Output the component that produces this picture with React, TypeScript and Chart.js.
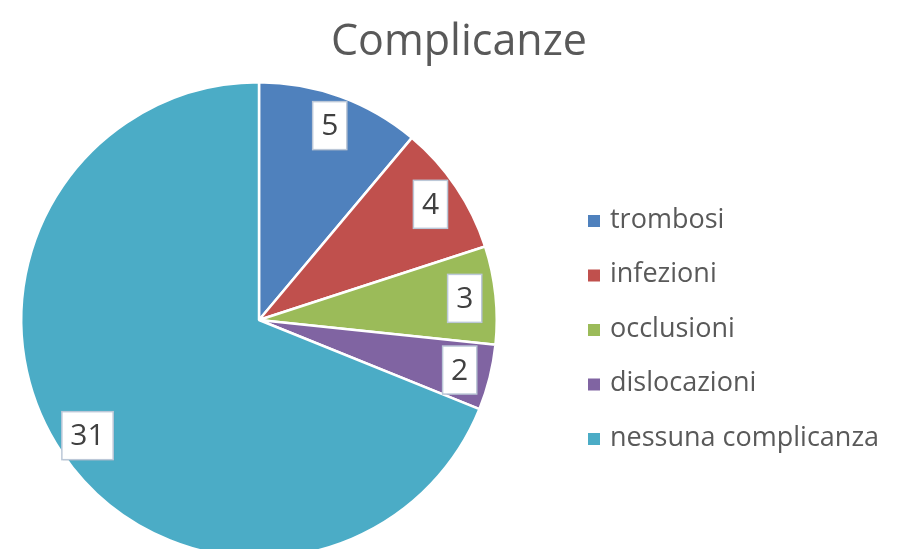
import React, { useEffect, useRef } from "react";
import { Chart, registerables } from "chart.js";

Chart.register(...registerables);

const TITLE = "Complicanze";
const categories = ["trombosi", "infezioni", "occlusioni", "dislocazioni", "nessuna complicanza"];
const values = [5, 4, 3, 2, 31];
const colors = ["#4F81BD", "#C0504D", "#9BBB59", "#8064A2", "#4BACC6"];

const FONT = "'Open Sans', 'Noto Sans', sans-serif";

const overlayPlugin = {
  id: "overlay",
  afterDraw(chart: any) {
    const ctx = chart.ctx as CanvasRenderingContext2D;
    ctx.save();
    // Title
    ctx.fillStyle = "#595959";
    ctx.font = `43px ${FONT}`;
    ctx.textAlign = "center";
    ctx.textBaseline = "alphabetic";
    ctx.fillText(TITLE, 459, 55);

    // Data labels
    const meta = chart.getDatasetMeta(0);
    ctx.font = `30px ${FONT}`;
    meta.data.forEach((arc: any, i: number) => {
      const mid = (arc.startAngle + arc.endAngle) / 2;
      const d = arc.outerRadius * 0.87;
      const cx = arc.x + Math.cos(mid) * d;
      const cy = arc.y + Math.sin(mid) * d;
      const txt = String(values[i]);
      const tw = ctx.measureText(txt).width;
      const w = tw + 17;
      const h = 48;
      ctx.fillStyle = "rgba(0,0,0,0.08)";
      ctx.fillRect(cx - w / 2 + 1, cy - h / 2 + 1, w, h);
      ctx.fillStyle = "#FFFFFF";
      ctx.fillRect(cx - w / 2, cy - h / 2, w, h);
      ctx.strokeStyle = "#BCC8D8";
      ctx.lineWidth = 1.5;
      ctx.strokeRect(cx - w / 2, cy - h / 2, w, h);
      ctx.fillStyle = "#404040";
      ctx.textAlign = "center";
      ctx.textBaseline = "middle";
      ctx.fillText(txt, cx, cy + 1);
    });

    // Legend
    ctx.font = `27px ${FONT}`;
    ctx.textAlign = "left";
    ctx.textBaseline = "middle";
    categories.forEach((c, i) => {
      const y = 221 + i * 54.5;
      ctx.fillStyle = colors[i];
      ctx.fillRect(588, y - 6, 12, 12);
      ctx.fillStyle = "#595959";
      ctx.fillText(c, 610, y - 1);
    });
    ctx.restore();
  },
};

export default function App() {
  const ref = useRef<HTMLCanvasElement | null>(null);
  useEffect(() => {
    document.body.style.margin = "0";
    const chart = new Chart(ref.current as HTMLCanvasElement, {
      type: "pie",
      data: {
        labels: categories,
        datasets: [
          {
            data: values,
            backgroundColor: colors,
            borderColor: "#FFFFFF",
            borderWidth: 2.5,
          },
        ],
      },
      options: {
        responsive: false,
        animation: false,
        layout: { padding: { left: 20, top: 81, right: 410, bottom: 41 } },
        plugins: {
          legend: { display: false },
          title: { display: false },
          tooltip: { enabled: false },
        },
      },
      plugins: [overlayPlugin],
    });
    return () => chart.destroy();
  }, []);
  return (
    <div style={{ width: 908, height: 549, overflow: "hidden", background: "#fff" }}>
      <canvas ref={ref} width={908} height={600} style={{ display: "block" }} />
    </div>
  );
}
